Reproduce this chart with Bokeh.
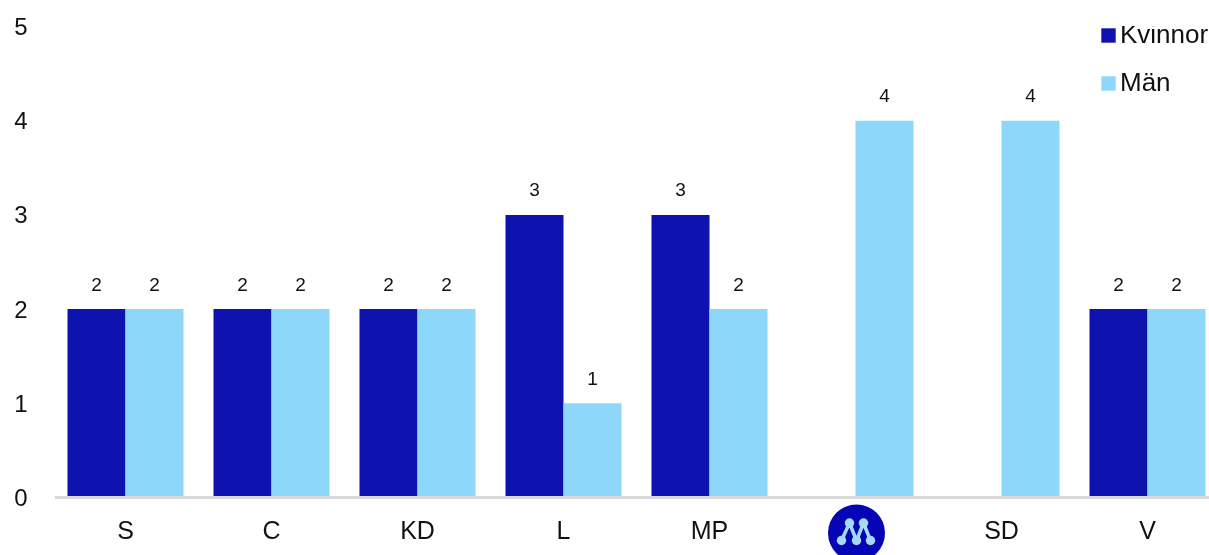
import numpy as np
from bokeh.plotting import figure
from bokeh.models import ColumnDataSource, FixedTicker, Legend, LegendItem, Range1d
from bokeh.core.properties import value
from bokeh.embed import file_html
from bokeh.resources import INLINE

categories = ["S", "C", "KD", "L", "MP", "M", "SD", "V"]
kvinnor = [2, 2, 2, 3, 3, 0, 0, 2]
man = [2, 2, 2, 1, 2, 4, 4, 2]
y_ticks = [0, 1, 2, 3, 4, 5]

DARK = "#0e13af"
LIGHT = "#8dd7fa"
FONT = "Liberation Sans"
W, H = 1209, 555
LEFT, TOP = 54, 26
BASE = 497          # pixel row of the zero line
STEP = 146.0
UY = (BASE - TOP) / 5
BAR = 58 / STEP

idx = np.arange(len(categories))
p = figure(width=W, height=H, output_backend="svg", toolbar_location=None,
           x_range=Range1d(-(125 - LEFT) / STEP, (W - 125) / STEP),
           y_range=Range1d(-(H - BASE) / UY, 5),
           min_border_left=LEFT, min_border_right=0, min_border_top=TOP, min_border_bottom=0,
           outline_line_color=None, background_fill_color="white")
p.styles = {"position": "fixed", "left": "0px", "top": "0px"}
p.grid.visible = False

src_k = ColumnDataSource(dict(x=idx - BAR / 2, top=kvinnor))
src_m = ColumnDataSource(dict(x=idx + BAR / 2, top=man))
r_k = p.vbar(x="x", top="top", bottom=0, width=BAR, source=src_k, fill_color=DARK, line_color=None)
r_m = p.vbar(x="x", top="top", bottom=0, width=BAR, source=src_m, fill_color=LIGHT, line_color=None)

for xs, vals in ((idx - BAR / 2, kvinnor), (idx + BAR / 2, man)):
    keep = [i for i, v in enumerate(vals) if v > 0]
    s = ColumnDataSource(dict(x=xs[keep], y=[vals[i] for i in keep], t=[str(vals[i]) for i in keep]))
    p.text(x="x", y="y", text="t", source=s, text_align="center", text_baseline="middle",
           x_offset=0, y_offset=-25, text_font=value(FONT), text_font_size="19px", text_color="#111111")

ya = p.yaxis[0]
ya.ticker = FixedTicker(ticks=y_ticks)
ya.axis_line_color = None
ya.major_tick_line_color = None
ya.minor_tick_line_color = None
ya.major_label_standoff = 21
ya.major_label_text_font = FONT
ya.major_label_text_font_size = "24px"
ya.major_label_text_color = "#111111"

xa = p.xaxis[0]
xa.fixed_location = 0
xa.ticker = FixedTicker(ticks=list(idx))
xa.major_label_overrides = {int(i): ("" if c == "M" else c) for i, c in zip(idx, categories)}
xa.axis_line_color = "#d9d9d9"
xa.axis_line_width = 3
xa.major_tick_line_color = None
xa.minor_tick_line_color = None
xa.major_label_standoff = 12
xa.major_label_text_font = FONT
xa.major_label_text_font_size = "25px"
xa.major_label_text_color = "#111111"

legend = Legend(items=[LegendItem(label="Kvinnor", renderers=[r_k]), LegendItem(label="Män", renderers=[r_m])],
                location=(1045, 457), orientation="vertical", border_line_color=None,
                background_fill_alpha=0, glyph_width=18, glyph_height=18, spacing=17,
                label_standoff=3, padding=0, margin=0,
                label_text_font=FONT, label_text_font_size="26px", label_text_color="#111111")
p.add_layout(legend)

# Party logo in place of the "M" tick label
m_i = categories.index("M")
def px_x(dx): return m_i + (np.asarray(dx, dtype=float) + 1) / STEP
def px_y(dy): return -(np.asarray(dy, dtype=float) + 35.5) / UY

LOGO_BG = "#0505b5"
LOGO_FG = "#a3d9fb"
p.scatter(x=[px_x(0)], y=[px_y(0)], size=57, marker="circle", fill_color=LOGO_BG, line_color=None)
nodes = np.array([(-15, 7.5), (-7, -10), (0, 7.5), (7, -10), (14, 7.5)], dtype=float)
p.line(x=px_x(nodes[:, 0]), y=px_y(nodes[:, 1]), line_color=LOGO_FG, line_width=3.5)
p.scatter(x=px_x(nodes[:, 0]), y=px_y(nodes[:, 1]), size=9.5, marker="circle", fill_color=LOGO_FG, line_color=None)

open("out.html", "w").write(file_html(p, INLINE))
